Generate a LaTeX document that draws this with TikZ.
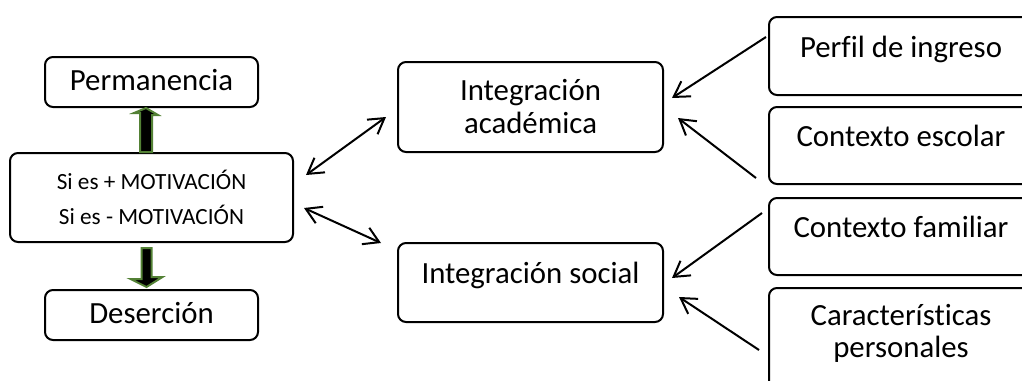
\documentclass[tikz,border=0pt]{standalone}
\usepackage{fontspec}
\setmainfont{Carlito}[Ligatures=NoCommon]
\usetikzlibrary{arrows.meta}
\definecolor{arrowgreen}{HTML}{538135}

\begin{document}
\begin{tikzpicture}[x=0.5pt, y=-0.5pt,
  >={Straight Barb[length=7.5pt,width=9pt]},
  box/.style={draw, line width=1pt, rounded corners=4pt, align=center, inner sep=0pt,
    font=\fontsize{15.4}{16.5}\selectfont},
  plain/.style={text height=10pt, text depth=2pt},
  toptext/.style={text height=11.5pt, text depth=10.5pt},
  blockarr/.style={draw=arrowgreen, fill=black, line width=1pt}]
  \useasboundingbox (0,0) rectangle (1022,380);
  \clip (0,0) rectangle (1022,380);
  % left column
  \node[box, plain, minimum width=106.5pt, minimum height=25pt] (Perm) at (151.5,82) {Permanencia};
  \node[box, font=\fontsize{11.6}{17.5}\selectfont, minimum width=141.5pt, minimum height=44.5pt] (Motiv) at (151.5,197.5) {Si es + MOTIVACIÓN\\Si es - MOTIVACIÓN};
  \node[box, plain, minimum width=106.5pt, minimum height=25pt] (Deser) at (151.5,315) {Deserción};
  \draw[blockarr] ([xshift=-5.75pt]Motiv.north) -- ++(0,19.5pt) -- ++(-3pt,0) -- ([xshift=-2.75pt]Perm.south) -- ++(6pt,-3.5pt) -- ++(-3pt,0) -- ([xshift=0.25pt]Motiv.north) -- cycle;
  \draw[blockarr] ([xshift=-5pt,yshift=-2.5pt]Motiv.south) -- ++(0,-15.5pt) -- ++(-5.5pt,0) -- ([xshift=-2.5pt,yshift=1pt]Deser.north) -- ++(8pt,5pt) -- ++(-5.5pt,0) -- ([yshift=-2.5pt]Motiv.south) -- cycle;
  % middle column
  \node[box, minimum width=132.5pt, minimum height=45pt] (Acad) at (530.5,107) {Integración\\académica};
  \node[box, toptext, minimum width=132.5pt, minimum height=39.5pt] (Social) at (530.5,282.5) {Integración social};
  \draw[line width=1pt, <->] ([xshift=6pt,yshift=11.25pt]Motiv.east) -- ([xshift=-5.5pt,yshift=-5pt]Acad.west);
  \draw[line width=1pt, <->] ([xshift=5pt,yshift=-5.25pt]Motiv.east) -- ([xshift=-8pt,yshift=19.75pt]Social.west);
  % right column
  \node[box, toptext, minimum width=132pt, minimum height=39pt] (Perfil) at (901,56) {Perfil de ingreso};
  \node[box, toptext, minimum width=132pt, minimum height=38.5pt] (Escolar) at (901,145.5) {Contexto escolar};
  \node[box, toptext, minimum width=132pt, minimum height=38.5pt] (Familiar) at (901,236.5) {Contexto familiar};
  \node[box, text height=30pt, text depth=11pt, font=\fontsize{15.4}{16}\selectfont,
    minimum width=132pt, minimum height=50pt] (Caract) at (901,338) {Características\\personales};
  \draw[line width=1pt, ->] ([xshift=-1pt,yshift=9.5pt]Perfil.west) -- ([xshift=4pt,yshift=4.5pt]Acad.east);
  \draw[line width=1pt, ->] ([xshift=-6pt,yshift=-16.25pt]Escolar.west) -- ([xshift=7pt,yshift=-5.5pt]Acad.east);
  \draw[line width=1pt, ->] ([xshift=-3pt,yshift=11.75pt]Familiar.west) -- ([xshift=4pt,yshift=2.25pt]Social.east);
  \draw[line width=1pt, ->] ([xshift=-4.5pt,yshift=-6pt]Caract.west) -- ([xshift=7.5pt,yshift=-7.25pt]Social.east);
\end{tikzpicture}
\end{document}
